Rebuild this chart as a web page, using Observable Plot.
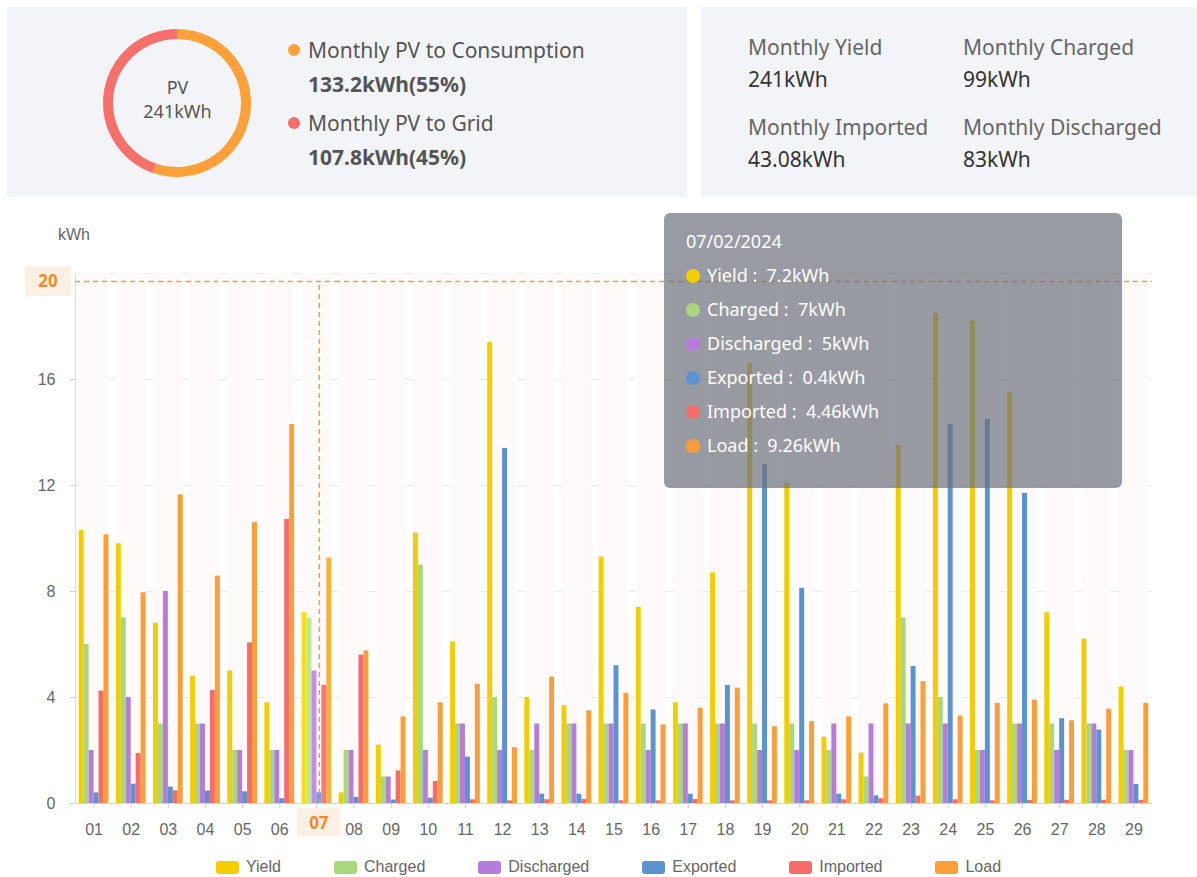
<!DOCTYPE html>
<html><head><meta charset="utf-8">
<script src="https://cdn.jsdelivr.net/npm/d3@7"></script>
<script src="https://cdn.jsdelivr.net/npm/@observablehq/plot@0.6"></script>
<style>
body{margin:0;width:1197px;height:877px;position:relative;background:#fff;font-family:"Noto Sans",sans-serif;overflow:hidden}
.abs{position:absolute}
.card{position:absolute;top:7px;height:190px;background:#f3f4f8}
.lbl{position:absolute;font-size:21px;color:#666;line-height:1;white-space:nowrap;transform:translateY(-50%)}
.val{position:absolute;font-size:21px;color:#333;line-height:1;white-space:nowrap;transform:translateY(-50%)}
.bold{font-weight:bold;color:#555}
.dot{position:absolute;width:12px;height:12px;border-radius:50%;transform:translate(-50%,-50%)}
#tip{position:absolute;left:664px;top:213px;width:458px;height:275px;border-radius:6px;background:rgba(108,112,126,0.70);color:#fff;font-family:"Noto Sans",sans-serif}
#tip .row{position:absolute;left:22px;font-size:18px;line-height:1;white-space:nowrap;transform:translateY(-50%)}
#tip .tdot{display:inline-block;width:14px;height:14px;border-radius:50%;margin-right:7px;vertical-align:-1px}
.ptr{position:absolute;background:#fcefe4;color:#f08a2c;font-weight:bold;font-size:17px;font-family:"Noto Sans",sans-serif;display:flex;align-items:center;justify-content:center}
#legend{position:absolute;top:859px;left:0;width:1197px;display:flex;justify-content:center;gap:53px;font-family:"Liberation Sans",Arial,sans-serif;font-size:16px;color:#666;padding-left:20px;box-sizing:border-box}
#legend .it{display:flex;align-items:center;gap:7px;line-height:16px}
#legend .sw{width:23px;height:13px;border-radius:3px}
</style></head><body>
<div class="card" style="left:7px;width:680px"></div>
<div class="card" style="left:701px;width:496px"></div>
<div id="donut" class="abs" style="left:97px;top:23px"></div>
<div id="card1"></div>
<div id="card2"></div>
<div id="chart" class="abs" style="left:0;top:200px"></div>
<div class="abs" style="left:58px;top:226px;font-family:'Liberation Sans',Arial,sans-serif;font-size:16px;color:#666">kWh</div>
<div id="overlay"></div>
<div id="tip"></div>
<div id="legend"></div>
<script>
// ---------- data ----------
const days = ["01","02","03","04","05","06","07","08","09","10","11","12","13","14","15","16","17","18","19","20","21","22","23","24","25","26","27","28","29"];
const seriesNames = ["Yield","Charged","Discharged","Exported","Imported","Load"];
const seriesColors = ["#f2cd00","#a9d67e","#b57cdc","#5b93d0","#f46d6a","#fe9e3a"];
const yieldVals      = [10.3,9.8,6.8,4.8,5.0,3.8,7.2,0.4,2.2,10.2,6.1,17.4,4.0,3.7,9.3,7.4,3.8,8.7,16.6,12.1,2.5,1.9,13.5,18.5,18.2,15.5,7.2,6.2,4.4];
const chargedVals    = [6,7,3,3,2,2,7,2,1,9,3,4,2,3,3,3,3,3,3,3,2,1,7,4,2,3,3,3,2];
const dischargedVals = [2,4,8,3,2,2,5,2,1,2,3,2,3,3,3,2,3,3,2,2,3,3,3,3,2,3,2,3,2];
const exportedVals   = [0.4,0.73,0.62,0.47,0.44,0.18,0.4,0.23,0.13,0.2,1.75,13.4,0.35,0.35,5.2,3.53,0.35,4.45,12.8,8.12,0.35,0.29,5.17,14.3,14.5,11.7,3.2,2.77,0.72];
const importedVals   = [4.24,1.89,0.48,4.26,6.06,10.72,4.46,5.6,1.23,0.83,0.14,0.1,0.14,0.15,0.1,0.1,0.15,0.1,0.1,0.1,0.14,0.18,0.28,0.14,0.1,0.12,0.12,0.12,0.12];
const loadVals       = [10.14,7.95,11.65,8.58,10.6,14.3,9.26,5.76,3.27,3.8,4.5,2.11,4.77,3.5,4.16,2.97,3.6,4.35,2.9,3.09,3.27,3.76,4.6,3.3,3.78,3.9,3.12,3.56,3.78];
const seriesValues = [yieldVals,chargedVals,dischargedVals,exportedVals,importedVals,loadVals];
const yTicks = [0,4,8,12,16,20];
const yMax = 20;

const pvTotalLabel = "PV";
const pvTotalValue = "241kWh";
const pvSplitLabels = ["Monthly PV to Consumption","Monthly PV to Grid"];
const pvSplitValues = [133.2,107.8];
const pvSplitColors = ["#fca03a","#f56f6b"];

const summaryLabels = ["Monthly Yield","Monthly Charged","Monthly Imported","Monthly Discharged"];
const summaryValues = ["241kWh","99kWh","43.08kWh","83kWh"];

const pointerDay = "07";
const pointerValue = 19.7;
const tooltipDate = "07/02/2024";

// ---------- donut ----------
function donutMark(index, scales, values, dims) {
  const pie = d3.pie().sort(null)(pvSplitValues);
  const arc = d3.arc().innerRadius(64).outerRadius(74);
  const g = d3.create("svg:g").attr("transform", `translate(${dims.width/2},${dims.height/2})`);
  g.selectAll("path").data(pie).join("path").attr("d", arc).attr("fill", (d,i)=>pvSplitColors[i]);
  return g.node();
}
const donut = Plot.plot({
  width:160, height:160, margin:0,
  style:{background:"transparent", fontFamily:"'Noto Sans',sans-serif", fontSize:"18px", color:"#555"},
  marks:[
    donutMark,
    Plot.text([pvTotalLabel], {frameAnchor:"middle", dy:-15, fill:"#555", fontSize:18}),
    Plot.text([pvTotalValue], {frameAnchor:"middle", dy:9, fill:"#555", fontSize:18})
  ]
});
document.getElementById("donut").appendChild(donut);

const total = d3.sum(pvSplitValues);
const c1 = document.getElementById("card1");
pvSplitLabels.forEach((l,i)=>{
  const y0 = 50 + i*73;
  c1.insertAdjacentHTML("beforeend",
    `<div class="dot" style="left:294px;top:${y0}px;background:${pvSplitColors[i]}"></div>
     <div class="lbl" style="left:308px;top:${y0}px;color:#555">${l}</div>
     <div class="val bold" style="left:308px;top:${y0+34}px">${pvSplitValues[i]}kWh(${Math.round(pvSplitValues[i]/total*100)}%)</div>`);
});
const c2 = document.getElementById("card2");
summaryLabels.forEach((l,i)=>{
  const x0 = 748 + (i%2)*215, y0 = 47 + Math.floor(i/2)*80;
  c2.insertAdjacentHTML("beforeend",
    `<div class="lbl" style="left:${x0}px;top:${y0}px">${l}</div>
     <div class="val" style="left:${x0}px;top:${y0+32}px">${summaryValues[i]}</div>`);
});

// ---------- bar chart ----------
const data = [];
days.forEach((d,i)=>seriesNames.forEach((s,j)=>data.push({day:d, series:s, value:seriesValues[j][i]})));
const colorOf = d => {
  const c = seriesColors[seriesNames.indexOf(d.series)];
  return d.day === pointerDay ? d3.color(c).brighter(0.25).formatHex() : c;
};
const chart = Plot.plot({
  width:1197, height:640, marginLeft:75, marginRight:45, marginTop:73, marginBottom:37,
  style:{background:"transparent", fontFamily:"'Liberation Sans',Arial,sans-serif", fontSize:"16px", color:"#666"},
  fx:{domain:days, padding:0, round:false, label:null},
  x:{domain:seriesNames, paddingInner:0, paddingOuter:0.75, round:false, axis:null},
  y:{domain:[0,yMax], axis:null},
  marks:[
    Plot.gridY(yTicks, {stroke:"#e8e8e8", strokeOpacity:1}),
    Plot.barY(data, {fx:"day", x:"series", y1:0, y2:yMax, fill:"#fdfaf9"}),
    Plot.barY(data, {fx:"day", x:"series", y:"value", fill:colorOf}),
    Plot.ruleY([0], {stroke:"#d6d6d6"}),
    Plot.frame({anchor:"left", facetAnchor:"left", stroke:"#dcdcdc"}),
    Plot.axisY(yTicks.filter(t=>t<yMax), {anchor:"left", tickSize:5, tickPadding:15, stroke:"#d0d0d0", fill:"#666", fontSize:16, label:null}),
    Plot.axisFx({anchor:"bottom", tickSize:5, tickPadding:15, stroke:"#d0d0d0", fill:"#666", fontSize:16, label:null, tickFormat:d=>d===pointerDay?"":d}),
    Plot.ruleY([pointerValue], {stroke:"#f39a4a", strokeDasharray:"5,4", strokeWidth:1.5}),
    Plot.ruleX([{day:pointerDay, s:"Exported"}], {fx:"day", x:"s", y1:0, y2:pointerValue, stroke:"#f39a4a", strokeDasharray:"5,4", strokeWidth:1.5})
  ]
});
document.getElementById("chart").appendChild(chart);

// axis pointer labels, positioned from scales
const fxS = chart.scale("fx"), xS = chart.scale("x"), yS = chart.scale("y");
const px = fxS.apply(pointerDay) + (xS.apply("Exported") - Math.min(...xS.range)) + xS.bandwidth/2;
const py = 200 + yS.apply(pointerValue);
document.getElementById("overlay").innerHTML =
  `<div class="ptr" style="left:25px;top:${py-15}px;width:46px;height:30px">${Math.round(pointerValue)}</div>
   <div class="ptr" style="left:${px-21.5}px;top:808px;width:43px;height:28px">${pointerDay}</div>`;

// tooltip
const di = days.indexOf(pointerDay);
let tip = `<div class="row" style="top:28px">${tooltipDate}</div>`;
seriesNames.forEach((s,j)=>{
  tip += `<div class="row" style="top:${62+j*34}px"><span class="tdot" style="background:${seriesColors[j]}"></span>${s} :&nbsp; ${seriesValues[j][di]}kWh</div>`;
});
document.getElementById("tip").innerHTML = tip;

// legend
document.getElementById("legend").innerHTML = seriesNames.map((s,j)=>
  `<div class="it"><span class="sw" style="background:${seriesColors[j]}"></span>${s}</div>`).join("");
</script>
</body></html>
